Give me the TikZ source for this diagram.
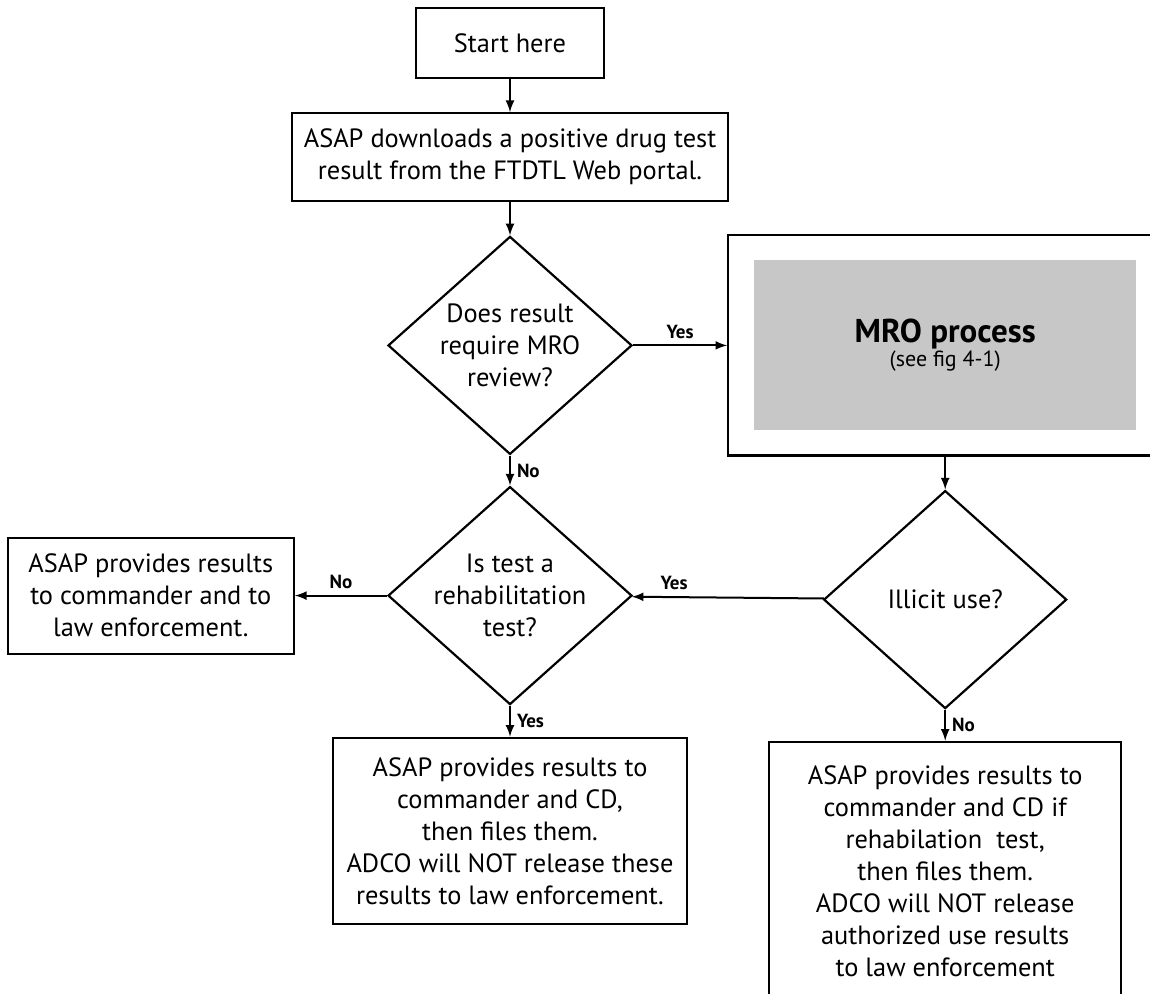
\documentclass[tikz,border=0pt]{standalone}
\usepackage{fontspec}
\setmainfont{PT Sans}
\usetikzlibrary{positioning,shapes.geometric}

\begin{document}
\begin{tikzpicture}[x=0.5pt, y=-0.5pt, auto, >=latex]
				\tikzstyle{class} = [rectangle, draw=black, line width=1.1pt, align=center, inner sep=0pt, font=\fontsize{13.2}{16}\selectfont];
				\tikzstyle{decision} = [diamond, draw=black, line width=1.1pt, align=center, inner sep=-4pt, aspect=1.1, font=\fontsize{13.2}{16}\selectfont];
				\tikzstyle{answer} = [font=\bfseries\fontsize{9.5}{11}\selectfont, inner sep=3pt];
				
				\useasboundingbox (0,0) rectangle (1150,994);
				
				\node[class, minimum width=94pt, minimum height=35pt] (start) at (510,43) {Start here};
				\node[class, minimum width=218pt, minimum height=44pt, below = 16.5pt of start] (download) {ASAP downloads a positive drug test\\ result from the FTDTL Web portal.};
				\node[decision, minimum width=122pt, minimum height=109pt, below = 16.5pt of download] (review) {Does result\\ require MRO\\ review?};
				\node[class, minimum width=217pt, minimum height=110pt, right = 47pt of review] (mro) {};
				\node[rectangle, fill=black!22, minimum width=191pt, minimum height=85pt, align=center] (mro process) at (mro.center) {{\bfseries\fontsize{16.5}{18}\selectfont MRO process}\\ {\fontsize{11}{12}\selectfont (see fig 4-1)}};
				\node[decision, minimum width=122pt, minimum height=109pt, below = 15pt of review] (rehab) {Is test a\\ rehabilitation\\ test?};
				\node[decision, minimum width=121.5pt, minimum height=109pt, below = 16.5pt of mro] (illicit) {Illicit use?};
				\node[class, minimum width=143pt, minimum height=58pt, left = 46pt of rehab] (law) {ASAP provides results\\ to commander and to\\ law enforcement.};
				\node[class, minimum width=177pt, minimum height=93pt, below = 15.5pt of rehab] (files) {ASAP provides results to\\ commander and CD,\\ then files them.\\ ADCO will NOT release these\\ results to law enforcement.};
				\node[class, minimum width=176pt, minimum height=129pt, below = 15.5pt of illicit] (authorized) {ASAP provides results to\\ commander and CD if\\ rehabilation\ \ test,\\ then files them.\\ ADCO will NOT release\\ authorized use results\\ to law enforcement};
				
				\path[draw=black, line width=1pt, ->] (start) edge (download)
				(download) edge (review)
				(review) edge node[answer]{Yes} (mro)
				(review) edge node[answer]{No} (rehab)
				(mro) edge (illicit)
				(illicit) edge node[answer, swap, pos=0.78]{Yes} (rehab)
				(rehab) edge node[answer, swap]{No} (law)
				(rehab) edge node[answer]{Yes} (files)
				(illicit) edge node[answer]{No} (authorized);
			\end{tikzpicture}
\end{document}
